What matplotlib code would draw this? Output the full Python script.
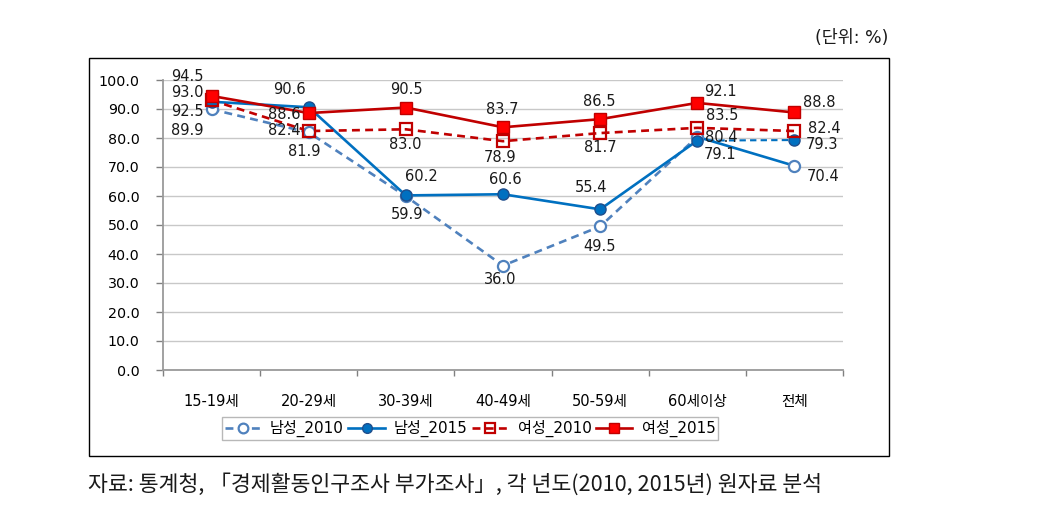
import matplotlib
matplotlib.use("Agg")
import matplotlib.pyplot as plt
from matplotlib.patches import Rectangle
from matplotlib.lines import Line2D

# ---------------- data ----------------
categories = ["15-19세", "20-29세", "30-39세", "40-49세", "50-59세", "60세이상", "전체"]
male_2010 = [89.9, 81.9, 59.9, 36.0, 49.5, 80.4, 70.4]
male_2015 = [92.5, 90.6, 60.2, 60.6, 55.4, 79.1, 79.3]
female_2010 = [93.0, 82.4, 83.0, 78.9, 81.7, 83.5, 82.4]
female_2015 = [94.5, 88.6, 90.5, 83.7, 86.5, 92.1, 88.8]
series_names = ["남성_2010", "남성_2015", "여성_2010", "여성_2015"]
y_ticks = [0, 10, 20, 30, 40, 50, 60, 70, 80, 90, 100]
unit_text = "(단위: %)"
source_text = "자료: 통계청, 「경제활동인구조사 부가조사」, 각 년도(2010, 2015년) 원자료 분석"

# ---------------- layout (pixel offsets of data labels) ----------------
W, H = 1064, 505
label_offsets = {
    0: [(-24, -21), (-4, -19), (1, -18), (-3, -14), (-1, -20), (24, -1), (29, -11)],
    1: [(-24, -10), (-19, 18), (16, 19), (2, 15), (-9, 22), (23, -14), (28, -4)],
    2: [(-24, 8), (-24, 1), (-1, -15), (-3, -16), (0, -14), (25, 12), (30, 3)],
    3: [(-24, 19), (-24, -1), (1, 18), (-1, 18), (-1, 18), (23, 11), (25, 10)],
}

FONT = ["DejaVu Sans", "Noto Sans CJK KR"]
plt.rcParams["font.family"] = FONT

fig = plt.figure(figsize=(W / 100, H / 100), dpi=100)
ax = fig.add_axes([163 / W, (H - 370) / H, (843 - 163) / W, 290 / H])

x = list(range(len(categories)))
lw = 1.9
styles = [
    dict(color="#4F81BD", ls=(0, (3, 2)), marker="o", mfc="white", mec="#4F81BD", ms=8, mew=1.6),
    dict(color="#0070C0", ls="-", marker="o", mfc="#0070C0", mec="#1F4E8C", ms=8, mew=1.0),
    dict(color="#C00000", ls=(0, (3, 2)), marker="s", mfc="none", mec="#C00000", ms=8, mew=1.6),
    dict(color="#C00000", ls="-", marker="s", mfc="#FF0000", mec="#C00000", ms=8.5, mew=1.0),
]
data = [male_2010, male_2015, female_2010, female_2015]

# lines (the reference swaps the male line styles on the last segment)
n = len(categories)
ax.plot(x[:n - 1], male_2010[:n - 1], color=styles[0]["color"], ls=styles[0]["ls"], lw=lw, zorder=2)
ax.plot(x[n - 2:], male_2010[n - 2:], color="#0070C0", ls="-", lw=lw, zorder=2)
ax.plot(x[:n - 1], male_2015[:n - 1], color=styles[1]["color"], ls="-", lw=lw, zorder=3)
ax.plot(x[n - 2:], male_2015[n - 2:], color="#0070C0", ls=(0, (3, 2)), lw=lw * 0.8, zorder=3)
ax.plot(x, female_2010, color=styles[2]["color"], ls=styles[2]["ls"], lw=lw, zorder=4)
ax.plot(x, female_2015, color=styles[3]["color"], ls="-", lw=lw, zorder=5)

LBL = 10.5
for i, (vals, st) in enumerate(zip(data, styles)):
    ax.plot(x, vals, ls="none", marker=st["marker"], mfc=st["mfc"], mec=st["mec"],
            ms=st["ms"], mew=st["mew"], zorder=6 + i)
    for j, v in enumerate(vals):
        dx, dy = label_offsets[i][j]
        ax.annotate(f"{v:.1f}", (x[j], v), xytext=(dx, dy), textcoords="offset pixels",
                    ha="center", va="center", fontsize=LBL, color="#1a1a1a", zorder=20)

ax.set_xlim(-0.5, n - 0.5)
ax.set_ylim(0, 100)
ax.set_yticks(y_ticks)
ax.set_yticklabels([f"{t:.1f}" for t in y_ticks])
ax.set_xticks(x)
ax.set_xticklabels(categories)
ax.set_xticks([k - 0.5 for k in range(n + 1)], minor=True)
ax.tick_params(axis="x", which="major", length=0, pad=17, labelsize=10.5)
ax.tick_params(axis="x", which="minor", length=4, width=1, color="#808080")
ax.tick_params(axis="y", which="major", length=5, width=1, color="#808080", pad=12, labelsize=10.3)
ax.yaxis.grid(True, color="#C8C8C8", lw=1)
ax.set_axisbelow(True)
for s in ["top", "right"]:
    ax.spines[s].set_visible(False)
for s in ["left", "bottom"]:
    ax.spines[s].set_color("#9A9A9A")
    ax.spines[s].set_linewidth(1.3)

# legend
handles = [Line2D([0], [0], color=st["color"], ls=st["ls"], lw=lw, marker=st["marker"],
                  mfc=st["mfc"], mec=st["mec"], ms=st["ms"] - 1, mew=st["mew"]) for st in styles]
leg = fig.legend(handles, series_names, loc="center", bbox_to_anchor=(470 / W, (H - 428.5) / H),
                 ncol=4, frameon=True, fancybox=False, fontsize=10.9, handlelength=2.4,
                 handletextpad=0.6, columnspacing=0.3, borderpad=0.2, borderaxespad=0)
leg.get_frame().set_edgecolor("#A6A6A6")
leg.get_frame().set_linewidth(1.0)

# outer chart border
fig.add_artist(Rectangle((89 / W, (H - 456) / H), 800 / W, 398 / H, transform=fig.transFigure,
                         fill=False, ec="black", lw=1.0))

fig.text(888 / W, (H - 38) / H, unit_text, ha="right", va="center", fontsize=12.5, color="#1a1a1a")
fig.text(88 / W, (H - 484) / H, source_text, ha="left", va="center", fontsize=15.6, color="#1a1a1a",
         family=["Noto Sans CJK KR", "DejaVu Sans"])

fig.savefig("out.png", dpi=100)
